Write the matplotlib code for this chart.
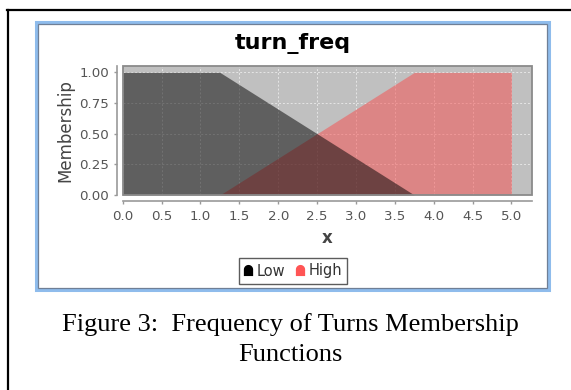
import numpy as np
import matplotlib
matplotlib.use("Agg")
import matplotlib.pyplot as plt
from matplotlib.patches import Rectangle
from matplotlib.lines import Line2D
from matplotlib.path import Path

# ---- data ----
title = "turn_freq"
series_names = ["Low", "High"]
low_x = [0.0, 1.25, 3.75]
low_y = [1.0, 1.0, 0.0]
high_x = [1.25, 3.75, 5.0]
high_y = [0.0, 1.0, 1.0]
x_ticks = [0.0, 0.5, 1.0, 1.5, 2.0, 2.5, 3.0, 3.5, 4.0, 4.5, 5.0]
y_ticks = [0.0, 0.25, 0.5, 0.75, 1.0]
caption1 = "Figure 3:  Frequency of Turns Membership"
caption2 = "Functions"

W, H = 571, 390
fig = plt.figure(figsize=(W / 100, H / 100), dpi=100)
fig.patch.set_facecolor("white")

def fx(px):
    return px / W

def fy(py):
    return 1 - py / H

# document frame lines (top and left)
fig.add_artist(Line2D([fx(6.5), fx(571)], [fy(10), fy(10)], color="black", lw=1.6))
fig.add_artist(Line2D([fx(7.5), fx(7.5)], [fy(9.5), fy(390)], color="black", lw=1.6))

# blue window box
fig.add_artist(Rectangle((fx(35.5), fy(289.5)), fx(548.5) - fx(35.5), fy(21.5) - fy(289.5),
                         fill=False, edgecolor="#8fbcec", lw=2.2))
fig.add_artist(Rectangle((fx(37.5), fy(287.5)), fx(546.5) - fx(37.5), fy(23.5) - fy(287.5),
                         fill=False, edgecolor="#6f7f96", lw=0.9))

# plot area
left, right, top, bottom = 122.7, 532.0, 66.0, 195.0
ax = fig.add_axes([fx(left), fy(bottom), fx(right) - fx(left), fy(top) - fy(bottom)])
ax.set_facecolor("#c0c0c0")
ax.set_xlim(0, 5.264)
ax.set_ylim(0, 1.052)

ax.grid(True, color="white", lw=0.7, ls=(0, (2, 2)), alpha=0.6, zorder=0)
ax.set_axisbelow(True)

high_color = (248 / 255, 76 / 255, 76 / 255)
ax.fill_between(high_x, high_y, 0, color=high_color, alpha=0.5, lw=0, zorder=2)
ax.fill_between(low_x, low_y, 0, color="black", alpha=0.5, lw=0, zorder=3)

ax.add_patch(Rectangle((0, 0), 1, 1, transform=ax.transAxes, fill=False,
                       edgecolor="#8a8a8a", lw=1.3, clip_on=False, zorder=5))

for s in ["top", "right"]:
    ax.spines[s].set_visible(False)
for s in ["left", "bottom"]:
    ax.spines[s].set_position(("outward", 4.2))
    ax.spines[s].set_color("#999999")
    ax.spines[s].set_linewidth(1.2)

ax.set_xticks(x_ticks)
ax.set_xticklabels([f"{v:.1f}" for v in x_ticks])
ax.set_yticks(y_ticks)
ax.set_yticklabels([f"{v:.2f}" for v in y_ticks])
ax.tick_params(axis="both", colors="#999999", length=2.5, width=1.0,
               labelcolor="#555555", labelsize=9.6)
ax.tick_params(axis="x", pad=4)
ax.tick_params(axis="y", pad=3)

ax.set_ylabel("Membership", fontsize=12, color="#444444", va="center")
ax.yaxis.set_label_coords(-0.1397, 0.5)
ax.set_xlabel("x", fontsize=12, color="#444444", fontweight="bold", va="center")
ax.xaxis.set_label_coords(0.5, -(238 - bottom) / (bottom - top))

# title
fig.text(fx(293), fy(49.3), title, ha="center", va="baseline",
         fontsize=16, fontweight="bold", color="black")

# legend with bell-shaped markers
t = np.linspace(np.pi, 0, 20)
verts = [(-1.0, -1.2)] + [(np.cos(a), 0.2 + np.sin(a)) for a in t] + [(1.0, -1.2), (-1.0, -1.2)]
codes = [Path.MOVETO] + [Path.LINETO] * (len(verts) - 2) + [Path.CLOSEPOLY]
bell = Path(verts, codes)
handles = [
    Line2D([], [], ls="none", marker=bell, markersize=8, color="black", markeredgewidth=0),
    Line2D([], [], ls="none", marker=bell, markersize=8, color="#ff5555", markeredgewidth=0),
]
leg = fig.legend(handles, series_names, loc="center",
                 bbox_to_anchor=(fx(293), fy(271)), ncol=2,
                 frameon=True, fancybox=False, fontsize=10.5,
                 handlelength=0.6, handletextpad=0.3, columnspacing=0.7,
                 borderpad=0.35, borderaxespad=0)
leg.get_frame().set_edgecolor("#333333")
leg.get_frame().set_linewidth(1.0)
for txt in leg.get_texts():
    txt.set_color("#333333")

# caption
fig.text(fx(290), fy(331), caption1, ha="center", va="baseline",
         fontsize=19, family="Liberation Serif", color="black")
fig.text(fx(290), fy(360.7), caption2, ha="center", va="baseline",
         fontsize=19, family="Liberation Serif", color="black")

fig.savefig("out.png", dpi=100)
